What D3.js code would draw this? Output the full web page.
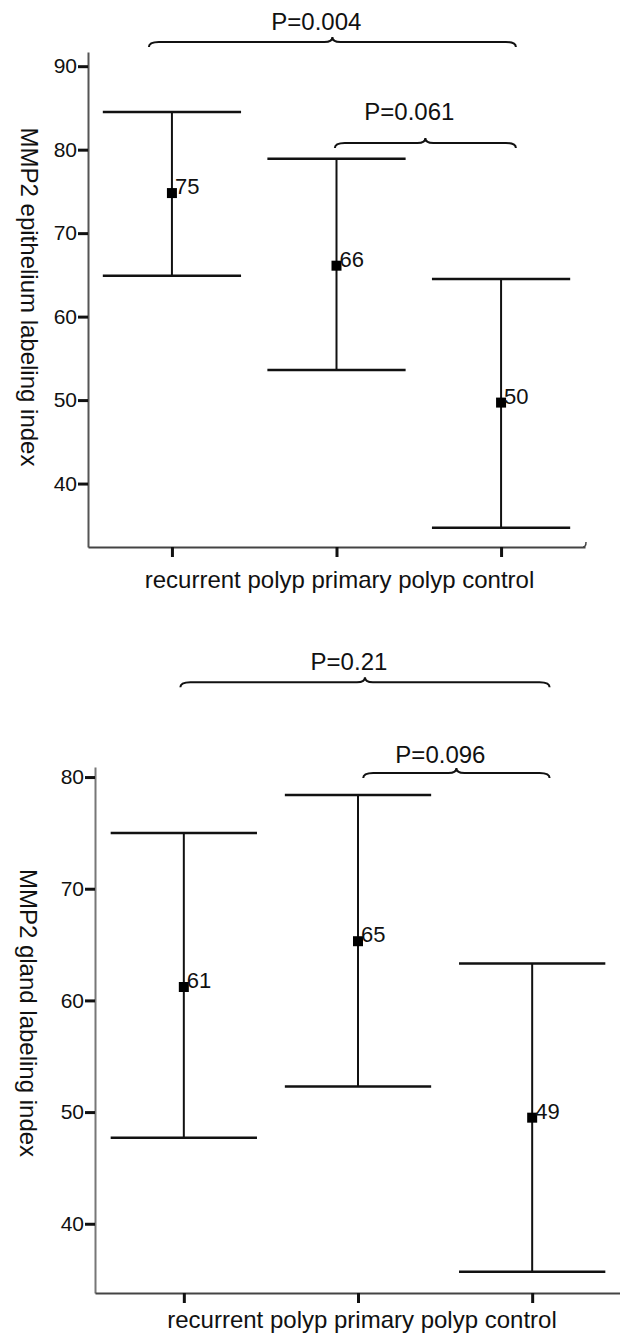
<!DOCTYPE html>
<html>
<head>
<meta charset="utf-8">
<script src="https://cdn.jsdelivr.net/npm/d3@7"></script>
<style>
  body { margin: 0; background: #fff; }
  text { font-family: 'Liberation Sans', Arial, sans-serif; fill: #111; }
</style>
</head>
<body>
<svg></svg>
<script>
(function () {
  'use strict';

  // groups, shared by both panels
  var categories = ['recurrent polyp', 'primary polyp', 'control'];

  // upper panel: epithelium
  var epiMean = [74.8, 66.1, 49.7];
  var epiLow = [64.9, 53.6, 34.7];
  var epiHigh = [84.5, 78.9, 64.5];
  var epiLabels = ['75', '66', '50'];
  var epiTicks = [40, 50, 60, 70, 80, 90];
  var epiP = ['P=0.004', 'P=0.061'];
  var epiPFrom = [-0.14, 0.99];
  var epiPTo = [2.09, 2.09];
  var epiPLevel = [92.9, 80.8];
  var epiPTextLevel = [94.3, 83.5];

  // lower panel: gland
  var glandMean = [61.2, 65.3, 49.5];
  var glandLow = [47.7, 52.3, 35.7];
  var glandHigh = [75.0, 78.4, 63.3];
  var glandLabels = ['61', '65', '49'];
  var glandTicks = [40, 50, 60, 70, 80];
  var glandP = ['P=0.21', 'P=0.096'];
  var glandPFrom = [-0.02, 1.03];
  var glandPTo = [2.10, 2.10];
  var glandPLevel = [88.5, 80.36];
  var glandPTextLevel = [89.6, 81.25];

  var svg = d3.select('svg')
      .attr('width', 620)
      .attr('height', 1335);

  function brace (x1, x2, yy) {
    // curly bracket, ends bent down, small cusp up in the middle
    var xm = (x1 + x2) / 2;
    return 'M' + x1 + ',' + (yy + 5) +
      ' Q' + x1 + ',' + yy + ' ' + (x1 + 10) + ',' + yy +
      ' L' + (xm - 8) + ',' + yy +
      ' Q' + xm + ',' + yy + ' ' + xm + ',' + (yy - 5) +
      ' Q' + xm + ',' + yy + ' ' + (xm + 8) + ',' + yy +
      ' L' + (x2 - 10) + ',' + yy +
      ' Q' + x2 + ',' + yy + ' ' + x2 + ',' + (yy + 5);
  }

  function drawPanel (cfg) {
    var x = d3.scaleLinear()
        .domain([-0.51, 2.51])
        .range([cfg.left, cfg.right]);
    var y = d3.scaleLinear()
        .domain(cfg.yDomain)
        .range([cfg.bottom, cfg.top]);
    var capHalf = (x(1) - x(0)) * 0.42;

    var g = svg.append('g');

    // y axis
    var yAxis = g.append('g')
        .attr('transform', 'translate(' + cfg.left + ',0)')
        .call(d3.axisLeft(y).tickValues(cfg.ticks).tickSize(10).tickSizeOuter(0).tickPadding(1));
    yAxis.select('.domain').attr('stroke', cfg.yColor).attr('stroke-width', 2);
    yAxis.selectAll('.tick line').attr('stroke', '#111').attr('stroke-width', 3);
    yAxis.selectAll('.tick text')
        .style('font-size', '21px')
        .attr('fill', '#111');

    // x axis
    var xAxis = g.append('g')
        .attr('transform', 'translate(0,' + cfg.bottom + ')')
        .call(d3.axisBottom(x).tickValues([0, 1, 2]).tickFormat('').tickSize(10).tickSizeOuter(0));
    xAxis.select('.domain').attr('stroke', '#444').attr('stroke-width', 2);
    xAxis.selectAll('.tick line').attr('stroke', '#111').attr('stroke-width', 3);

    if (cfg.hook) {
      // the little upturned end of the x axis
      xAxis.append('path')
          .attr('d', 'M' + (cfg.right - 2) + ',0 Q' + (cfg.right + 1) + ',0 ' + (cfg.right + 1) + ',-5')
          .attr('fill', 'none')
          .attr('stroke', '#444')
          .attr('stroke-width', 1.5);
    }

    g.append('text')
        .attr('x', (cfg.left + cfg.right) / 2 + cfg.xLabelShift)
        .attr('y', cfg.xLabelY)
        .attr('text-anchor', 'middle')
        .style('font-size', '24px')
        .text(categories.join(' '));

    g.append('text')
        .attr('transform', 'translate(' + cfg.titleX + ',' + cfg.titleY + ') rotate(90)')
        .attr('text-anchor', 'middle')
        .attr('dominant-baseline', 'central')
        .style('font-size', '24px')
        .text(cfg.title);

    // error bars
    var bars = g.selectAll('g.bar')
        .data(categories)
        .enter()
        .append('g')
        .attr('class', 'bar');

    bars.append('line')
        .attr('x1', function (d, i) { return x(i); })
        .attr('x2', function (d, i) { return x(i); })
        .attr('y1', function (d, i) { return y(cfg.high[i]); })
        .attr('y2', function (d, i) { return y(cfg.low[i]); })
        .attr('stroke', '#111')
        .attr('stroke-width', 2);

    bars.append('line')
        .attr('x1', function (d, i) { return x(i) - capHalf; })
        .attr('x2', function (d, i) { return x(i) + capHalf; })
        .attr('y1', function (d, i) { return y(cfg.high[i]); })
        .attr('y2', function (d, i) { return y(cfg.high[i]); })
        .attr('stroke', '#111')
        .attr('stroke-width', 2.5);

    bars.append('line')
        .attr('x1', function (d, i) { return x(i) - capHalf; })
        .attr('x2', function (d, i) { return x(i) + capHalf; })
        .attr('y1', function (d, i) { return y(cfg.low[i]); })
        .attr('y2', function (d, i) { return y(cfg.low[i]); })
        .attr('stroke', '#111')
        .attr('stroke-width', 2.5);

    bars.append('rect')
        .attr('x', function (d, i) { return x(i) - 5; })
        .attr('y', function (d, i) { return y(cfg.mean[i]) - 5; })
        .attr('width', 10)
        .attr('height', 10)
        .attr('fill', '#000');

    bars.append('text')
        .attr('x', function (d, i) { return x(i) + 3; })
        .attr('y', function (d, i) { return y(cfg.mean[i]) + 1; })
        .style('font-size', '22px')
        .text(function (d, i) { return cfg.labels[i]; });

    // significance brackets
    var br = g.selectAll('g.brace')
        .data(cfg.p)
        .enter()
        .append('g')
        .attr('class', 'brace');

    br.append('path')
        .attr('d', function (d, i) {
          return brace(x(cfg.pFrom[i]), x(cfg.pTo[i]), y(cfg.pLevel[i]));
        })
        .attr('fill', 'none')
        .attr('stroke', '#111')
        .attr('stroke-width', 2);

    br.append('text')
        .attr('x', function (d, i) { return (x(cfg.pFrom[i]) + x(cfg.pTo[i])) / 2 - 16; })
        .attr('y', function (d, i) { return y(cfg.pTextLevel[i]); })
        .attr('text-anchor', 'middle')
        .style('font-size', '24px')
        .text(function (d) { return d; });
  }

  drawPanel({
    left: 88, right: 585, top: 52, bottom: 547,
    yDomain: [32.4, 91.7], yColor: '#555', hook: true,
    ticks: epiTicks,
    mean: epiMean, low: epiLow, high: epiHigh, labels: epiLabels,
    p: epiP, pFrom: epiPFrom, pTo: epiPTo, pLevel: epiPLevel, pTextLevel: epiPTextLevel,
    title: 'MMP2 epithelium labeling index', titleX: 29, titleY: 297,
    xLabelY: 588, xLabelShift: 3
  });

  drawPanel({
    left: 95, right: 621, top: 767, bottom: 1293,
    yDomain: [33.8, 80.9], yColor: '#777', hook: false,
    ticks: glandTicks,
    mean: glandMean, low: glandLow, high: glandHigh, labels: glandLabels,
    p: glandP, pFrom: glandPFrom, pTo: glandPTo, pLevel: glandPLevel, pTextLevel: glandPTextLevel,
    title: 'MMP2 gland labeling index', titleX: 28, titleY: 1013,
    xLabelY: 1328, xLabelShift: 4
  });
} ());
</script>
</body>
</html>
